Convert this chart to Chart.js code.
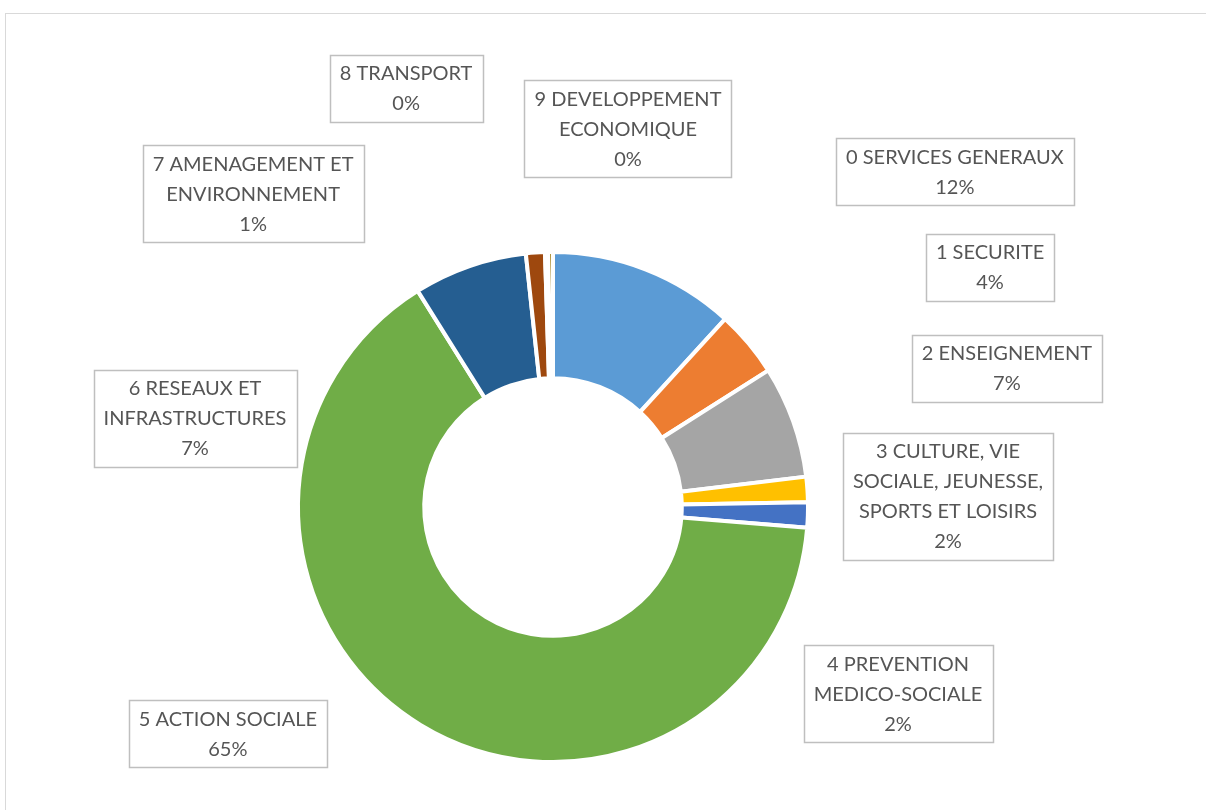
<!DOCTYPE html>
<html>
<head>
  <meta charset="utf-8">
  <title>Répartition par fonction</title>
  <script src="https://cdn.jsdelivr.net/npm/chart.js@4"></script>
  <style>
    html, body { margin: 0; padding: 0; background: #fff; overflow: hidden; }
    #frame { position: absolute; left: 5px; top: 13px; width: 1300px; height: 900px; border: 1.5px solid #d9d9d9; }
    #wrap { position: absolute; left: 0; top: 0; width: 1206px; height: 810px; }
  </style>
</head>
<body>
  <div id="frame"></div>
  <div id="wrap"><canvas id="chart"></canvas></div>
  <script>
    // Categories (label lines as shown in the callouts)
    const categories = [
      ['0 SERVICES GENERAUX'],
      ['1 SECURITE'],
      ['2 ENSEIGNEMENT'],
      ['3 CULTURE, VIE', 'SOCIALE, JEUNESSE,', 'SPORTS ET LOISIRS'],
      ['4 PREVENTION', 'MEDICO-SOCIALE'],
      ['5 ACTION SOCIALE'],
      ['6 RESEAUX ET', 'INFRASTRUCTURES'],
      ['7 AMENAGEMENT ET', 'ENVIRONNEMENT'],
      ['8 TRANSPORT'],
      ['9 DEVELOPPEMENT', 'ECONOMIQUE']
    ];

    // Share of each function (percent)
    const shares = [11.8, 4.2, 7.1, 1.6, 1.6, 64.8, 7.2, 1.2, 0.2, 0.3];

    const colors = [
      '#5b9bd5', '#ed7d31', '#a5a5a5', '#ffc000', '#4472c4',
      '#70ad47', '#255e91', '#9e480e', '#636363', '#997300'
    ];

    // Callout box centres, relative to the doughnut centre, in outer radii
    const calloutOffsets = [
      [1.576, -1.314], [1.714, -0.941], [1.780, -0.545], [1.549, -0.043], [1.353, 0.733],
      [-1.275, 0.890], [-1.404, -0.349], [-1.176, -1.231], [-0.576, -1.643], [0.294, -1.486]
    ];

    const total = shares.reduce((s, v) => s + v, 0);

    const calloutPlugin = {
      id: 'callouts',
      afterDatasetsDraw(chart) {
        const ctx = chart.ctx;
        const arcs = chart.getDatasetMeta(0).data;
        ctx.save();
        ctx.font = '20px Lato';
        ctx.textAlign = 'center';
        ctx.textBaseline = 'middle';
        const lineH = 30;
        arcs.forEach((arc, i) => {
          const pct = Math.round(Math.round(shares[i] / total * 1000) / 10);
          const lines = [...categories[i], pct + '%'];
          const w = Math.max(...lines.map(l => ctx.measureText(l).width)) + 20;
          const h = lines.length * lineH + 7;
          const cx = arc.x + calloutOffsets[i][0] * arc.outerRadius;
          const cy = arc.y + calloutOffsets[i][1] * arc.outerRadius;
          const x0 = Math.round(cx - w / 2) + 0.5;
          const y0 = Math.round(cy - h / 2) + 0.5;
          ctx.fillStyle = '#ffffff';
          ctx.fillRect(x0, y0, Math.round(w), Math.round(h));
          ctx.strokeStyle = '#bfbfbf';
          ctx.lineWidth = 1.5;
          ctx.strokeRect(x0, y0, Math.round(w), Math.round(h));
          ctx.fillStyle = '#555555';
          lines.forEach((l, k) => {
            ctx.fillText(l, cx, cy - (lines.length - 1) * lineH / 2 + k * lineH + 1);
          });
        });
        ctx.restore();
      }
    };

    new Chart(document.getElementById('chart'), {
      type: 'doughnut',
      data: {
        labels: categories,
        datasets: [{
          data: shares,
          backgroundColor: colors,
          borderColor: '#ffffff',
          borderWidth: 4
        }]
      },
      options: {
        responsive: true,
        maintainAspectRatio: false,
        animation: false,
        cutout: '50.5%',
        layout: { padding: { left: 296, right: 396, top: 250, bottom: 46 } },
        plugins: {
          legend: { display: false },
          tooltip: { enabled: false }
        }
      },
      plugins: [calloutPlugin]
    });
  </script>
</body>
</html>
